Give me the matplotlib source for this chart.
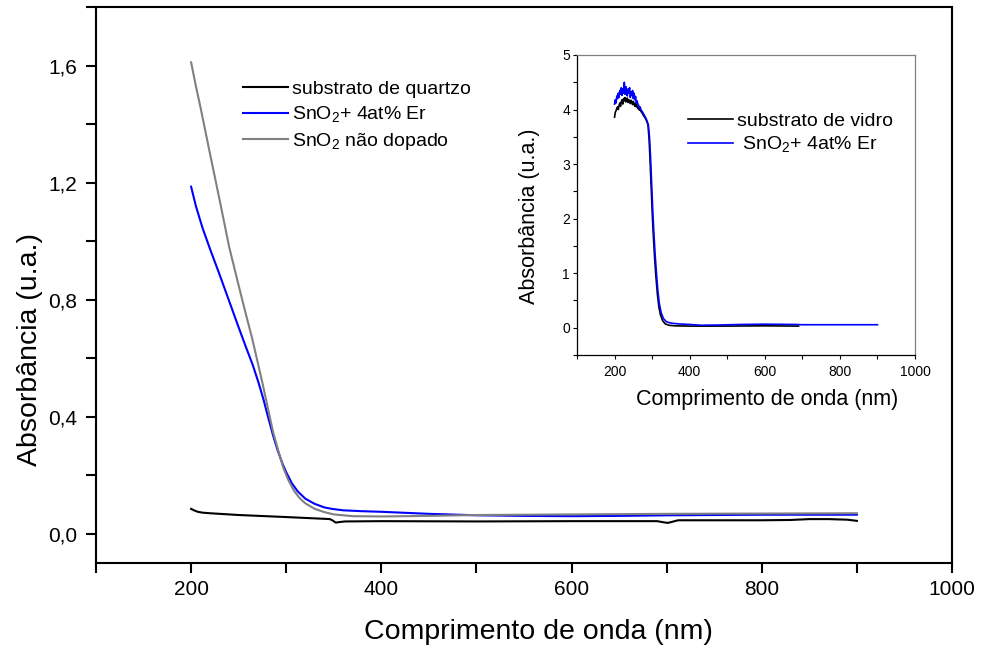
import matplotlib
matplotlib.use("Agg")
import matplotlib.pyplot as plt
from matplotlib.ticker import FixedLocator, MultipleLocator, FuncFormatter

plt.rcParams['font.family'] = ['Liberation Sans', 'DejaVu Sans']
plt.rcParams['mathtext.fontset'] = 'custom'
plt.rcParams['mathtext.rm'] = 'Liberation Sans'
plt.rcParams['mathtext.it'] = 'Liberation Sans:italic'

# ---------------- main chart data ----------------
quartz_x = [200, 203, 207, 212, 220, 250, 300, 340, 346, 349, 352, 356, 362, 400, 500, 600, 690, 697, 701, 705, 712, 760, 800, 830, 850, 870, 890, 900]
quartz_y = [0.085, 0.080, 0.075, 0.072, 0.070, 0.064, 0.057, 0.051, 0.050, 0.045, 0.038, 0.040, 0.042, 0.043, 0.042, 0.043, 0.043, 0.039, 0.037, 0.040, 0.046, 0.046, 0.046, 0.047, 0.050, 0.050, 0.048, 0.044]

er_x = [200, 205, 212, 220, 230, 240, 250, 258, 265, 271, 276, 281, 286, 291, 296, 300, 306, 312, 320, 330, 340, 348, 360, 380, 400, 450, 500, 550, 600, 650, 700, 800, 900]
er_y = [1.186, 1.120, 1.045, 0.972, 0.885, 0.795, 0.705, 0.635, 0.575, 0.515, 0.460, 0.398, 0.338, 0.285, 0.240, 0.210, 0.172, 0.145, 0.120, 0.102, 0.090, 0.085, 0.080, 0.077, 0.075, 0.068, 0.063, 0.061, 0.060, 0.061, 0.063, 0.065, 0.065]

undoped_x = [200, 205, 210, 219, 230, 240, 251, 258, 264, 269, 275, 280, 286, 292, 297, 302, 308, 314, 320, 330, 340, 350, 370, 400, 450, 500, 600, 700, 800, 900]
undoped_y = [1.611, 1.530, 1.455, 1.312, 1.140, 0.980, 0.835, 0.745, 0.670, 0.600, 0.515, 0.440, 0.350, 0.280, 0.225, 0.185, 0.148, 0.122, 0.104, 0.085, 0.074, 0.066, 0.060, 0.059, 0.061, 0.064, 0.066, 0.068, 0.069, 0.070]

main_labels = ['substrato de quartzo', r'SnO$_\mathregular{2}$+ 4at% Er', r'SnO$_\mathregular{2}$ não dopado']
main_xticks = [200, 400, 600, 800, 1000]
main_yticks = [0.0, 0.4, 0.8, 1.2, 1.6]

# ---------------- inset data ----------------
glass_x = [200, 202, 204, 206, 208, 210, 212, 214, 216, 218, 220, 222, 224, 226, 228, 230, 232, 234,
           236, 238, 240, 242, 244, 246, 248, 250, 252, 254, 256, 258, 260, 262, 264, 266, 268, 270,
           274, 278, 282, 286, 289, 292, 295, 298, 301, 304, 307, 310, 314, 318, 322, 328, 335, 345,
           360, 400, 500, 600, 690]
glass_y = [3.86, 3.95, 3.98, 4.02, 4.05, 4.00, 4.08, 4.12, 4.06, 4.15, 4.18, 4.10, 4.20, 4.16, 4.22, 4.14, 4.19, 4.21,
           4.13, 4.18, 4.16, 4.11, 4.17, 4.14, 4.09, 4.15, 4.10, 4.06, 4.12, 4.05, 4.08, 4.02, 4.04, 3.99, 4.01, 3.97,
           3.93, 3.88, 3.84, 3.78, 3.72, 3.45, 3.00, 2.50, 2.00, 1.60, 1.25, 0.95, 0.62, 0.38, 0.24, 0.13, 0.07, 0.045,
           0.035, 0.030, 0.030, 0.035, 0.030]

er_in_x = [200, 202, 204, 206, 208, 210, 212, 214, 216, 218, 220, 222, 224, 226, 228, 230, 232, 234,
           236, 238, 240, 242, 244, 246, 248, 250, 252, 254, 256, 258, 260, 262, 264, 266, 268, 270,
           274, 278, 282, 286, 290, 293, 296, 299, 302, 305, 308, 311, 315, 319, 324, 330, 338, 350,
           370, 400, 430, 480, 540, 600, 680, 700, 800, 900]
er_in_y = [4.10, 4.18, 4.12, 4.25, 4.20, 4.30, 4.22, 4.35, 4.28, 4.40, 4.26, 4.38, 4.30, 4.50, 4.28, 4.42, 4.33, 4.25,
           4.38, 4.30, 4.40, 4.22, 4.32, 4.26, 4.35, 4.20, 4.30, 4.18, 4.24, 4.12, 4.16, 4.10, 4.08, 4.03, 4.05, 4.00,
           3.96, 3.91, 3.86, 3.80, 3.72, 3.50, 3.10, 2.60, 2.10, 1.70, 1.35, 1.05, 0.70, 0.45, 0.28, 0.17, 0.11, 0.085,
           0.07, 0.06, 0.045, 0.05, 0.06, 0.065, 0.06, 0.055, 0.055, 0.055]

inset_labels = ['substrato de vidro', r' SnO$_\mathregular{2}$+ 4at% Er']
inset_xticks = [200, 400, 600, 800, 1000]
inset_yticks = [0, 1, 2, 3, 4, 5]

BLUE = '#0000ff'
GRAY = '#808080'

fig = plt.figure(figsize=(9.81, 6.48), dpi=100)
W, H = 981, 648

def axrect(l, t, r, b):
    return [l / W, 1 - b / H, (r - l) / W, (b - t) / H]

ax = fig.add_axes(axrect(96, 7, 952, 563))
l1, = ax.plot(quartz_x, quartz_y, color='black', lw=1.5)
l2, = ax.plot(er_x, er_y, color=BLUE, lw=1.5)
l3, = ax.plot(undoped_x, undoped_y, color=GRAY, lw=1.5)
ax.set_xlim(100, 1000)
ax.set_ylim(-0.1, 1.8)
ax.xaxis.set_major_locator(FixedLocator(main_xticks))
ax.xaxis.set_minor_locator(MultipleLocator(100))
ax.yaxis.set_major_locator(FixedLocator(main_yticks))
ax.yaxis.set_minor_locator(MultipleLocator(0.2))
ax.yaxis.set_major_formatter(FuncFormatter(lambda v, p: f"{v:.1f}".replace('.', ',')))
ax.tick_params(which='both', direction='out', length=7, width=1.5, top=False, right=False)
ax.tick_params(axis='x', which='major', labelsize=15, pad=5)
ax.tick_params(axis='y', which='major', labelsize=15, pad=6.5)
for s in ax.spines.values():
    s.set_linewidth(1.5)
ax.set_xlabel('Comprimento de onda (nm)', fontsize=20.5)
ax.set_ylabel('Absorbância (u.a.)', fontsize=20.5)
ax.xaxis.set_label_coords((538 - 96) / 856, -(632 - 563) / 556)
ax.xaxis.label.set_va('center')
ax.yaxis.set_label_coords((30 - 96) / 856, (563 - 350) / 556)
ax.yaxis.label.set_va('center')

ax.legend([l1, l2, l3], main_labels, frameon=False, fontsize=14,
          loc='upper left', bbox_to_anchor=((243 - 96) / 856, (563 - 80) / 556),
          handlelength=2.3, handletextpad=0.2, labelspacing=0.35, borderpad=0, borderaxespad=0)

# ---------------- inset ----------------
ins = fig.add_axes(axrect(577, 55, 915, 355))
k1, = ins.plot(glass_x, glass_y, color='black', lw=1.2)
k2, = ins.plot(er_in_x, er_in_y, color=BLUE, lw=1.2)
ins.set_xlim(100, 1000)
ins.set_ylim(-0.5, 5)
ins.xaxis.set_major_locator(FixedLocator(inset_xticks))
ins.xaxis.set_minor_locator(MultipleLocator(100))
ins.yaxis.set_major_locator(FixedLocator(inset_yticks))
ins.yaxis.set_minor_locator(MultipleLocator(0.5))
ins.tick_params(which='both', direction='out', length=3, width=0.8, top=False, right=False,
                labelsize=10)
ins.tick_params(axis='x', pad=4)
ins.tick_params(axis='y', pad=2)
ins.spines['left'].set_linewidth(0.9)
ins.spines['bottom'].set_linewidth(0.9)
ins.spines['top'].set_color(GRAY)
ins.spines['right'].set_color(GRAY)
ins.spines['top'].set_linewidth(0.9)
ins.spines['right'].set_linewidth(0.9)
ins.set_xlabel('Comprimento de onda (nm)', fontsize=15.5)
ins.set_ylabel('Absorbância (u.a.)', fontsize=15.5)
ins.xaxis.set_label_coords((767 - 577) / 338, -(400 - 355) / 300)
ins.xaxis.label.set_va('center')
ins.yaxis.set_label_coords((530 - 577) / 338, (355 - 216) / 300)
ins.yaxis.label.set_va('center')
ins.legend([k1, k2], inset_labels, frameon=False, fontsize=14,
           loc='upper left', bbox_to_anchor=((688 - 577) / 338, (355 - 112) / 300),
           handlelength=2.3, handletextpad=0.2, labelspacing=0.25, borderpad=0, borderaxespad=0)

fig.savefig('out.png', dpi=100)
